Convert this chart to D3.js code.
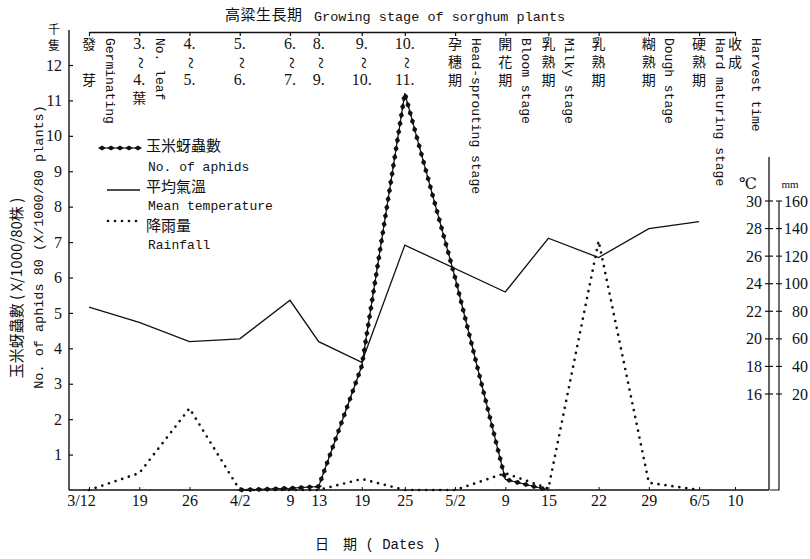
<!DOCTYPE html>
<html><head><meta charset="utf-8">
<script src="https://cdn.jsdelivr.net/npm/d3@7"></script>
<style>
body{margin:0;background:#fff;}
svg{display:block;}
.num{font-family:'Liberation Serif','DejaVu Serif',serif;font-size:16px;fill:#111;}
.mono{font-family:'Liberation Mono','DejaVu Sans Mono',monospace;font-size:13px;fill:#111;}
.cjk{font-family:'Noto Sans CJK TC','Noto Sans CJK SC',sans-serif;font-size:14px;fill:#111;}
</style></head>
<body>
<svg id="c" width="810" height="559"></svg>
<script>
// ---------- data ----------
const dateKeys   = ["03-12","03-19","03-26","04-02","04-09","04-13","04-19","04-25","05-02","05-09","05-15","05-22","05-29","06-05","06-10"];
const dateLabels = ["3/12","19","26","4/2","9","13","19","25","5/2","9","15","22","29","6/5","10"];

const aphidDates  = ["04-02","04-09","04-13","04-19","04-25","05-02","05-09","05-15"];
const aphidValues = [0, 0.05, 0.1, 3.5, 11.2, 6.0, 0.3, 0];           // thousand aphids / 80 plants

const tempDates  = ["03-12","03-19","03-26","04-02","04-09","04-13","04-19","04-25","05-09","05-15","05-22","05-29","06-05"];
const tempValues = [22.3, 21.2, 19.8, 20.0, 22.8, 19.8, 18.3, 26.8, 23.4, 27.3, 25.9, 28.0, 28.5]; // °C

const rainDates  = ["03-12","03-19","03-26","04-02","04-09","04-13","04-19","04-25","05-02","05-09","05-15","05-22","05-29","06-05"];
const rainValues = [0, 3.5, 17, 0, 0, 0, 2.3, 0, 0, 3.5, 0.3, 131, 1.5, 0]; // mm

const aphidTicks = [1,2,3,4,5,6,7,8,9,10,11,12];
const tempTicks  = [16,18,20,22,24,26,28,30];
const rainTicks  = [20,40,60,80,100,120,140,160];

const stageDates = ["03-12","03-19","03-26","04-02","04-09","04-13","04-19","04-25","05-02","05-09","05-15","05-22","05-29","06-05","06-10"];
const stageZh = [["發","","芽"],["3.","~","4.","葉"],["4.","~","5."],["5.","~","6."],["6.","~","7."],["8.","~","9."],["9.","~","10."],["10.","~","11."],
                 ["孕","穗","期"],["開","花","期"],["乳","熟","期"],["乳","熟","期"],["糊","熟","期"],["硬","熟","期"],["收","成"]];
const stageEn = ["Germinating","No. leaf","","","","","","","Head-sprouting stage","Bloom stage","Milky stage","","Dough stage","Hard maturing stage","Harvest time"];

const titleZh = "高粱生長期";
const titleEn = "Growing stage of sorghum plants";
const yTitleZh = "玉米蚜蟲數 ( X/1000/80株 )";
const yTitleEn = "No. of aphids 80 (X/1000/80 plants)";
const xTitle = "日　期 ( Dates )";
const legendZh = ["玉米蚜蟲數","平均氣溫","降雨量"];
const legendEn = ["No. of aphids","Mean temperature","Rainfall"];

// ---------- scales ----------
const parse = k => new Date(1980, +k.slice(0,2)-1, +k.slice(3));
const svg = d3.select("#c");
const x = d3.scaleTime().domain([parse("03-12"), parse("06-10")]).range([89, 735]);
const yA = d3.scaleLinear().domain([0, 12]).range([490, 65]);
const yT = d3.scaleLinear().domain([16, 30]).range([394, 201]);
const yR = d3.scaleLinear().domain([0, 20, 160]).range([490, 394, 201]);

const ink = "#111";

// ---------- axes ----------
svg.append("line").attr("x1",69).attr("x2",69).attr("y1",30).attr("y2",490).attr("stroke",ink).attr("stroke-width",1.4);
const gL = svg.append("g").attr("transform","translate(69,0)")
  .call(d3.axisLeft(yA).tickValues(aphidTicks).tickSize(-4).tickPadding(7).tickFormat(d3.format("d")));
gL.select(".domain").remove();
gL.selectAll("line").attr("stroke",ink).attr("stroke-width",1.2);
gL.selectAll("text").attr("class","num").attr("font-size",null).attr("font-family",null);
svg.append("text").attr("class","cjk").attr("x",54).attr("y",31).attr("text-anchor","middle").attr("dominant-baseline","middle").style("font-size","12px").text("千");
svg.append("text").attr("class","cjk").attr("x",54).attr("y",47).attr("text-anchor","middle").attr("dominant-baseline","middle").style("font-size","12px").text("隻");

svg.append("line").attr("x1",69).attr("x2",769).attr("y1",490).attr("y2",490).attr("stroke",ink).attr("stroke-width",1.4);
const gB = svg.append("g").attr("transform","translate(0,490)")
  .call(d3.axisBottom(x).tickValues(dateKeys.map(parse)).tickSize(-3).tickPadding(5)
        .tickFormat((d,i)=>dateLabels[i]));
gB.select(".domain").remove();
gB.selectAll("line").attr("stroke",ink);
gB.selectAll("text").attr("class","num").attr("font-size",null).attr("font-family",null);
gB.selectAll(".tick").filter((d,i)=>i===0).select("text").attr("x",-8);

svg.append("text").attr("x",378).attr("y",545).attr("text-anchor","middle").attr("dominant-baseline","middle")
  .style("font-family","'Liberation Mono','Noto Sans CJK TC',monospace").style("font-size","14px").attr("fill",ink).text(xTitle);

svg.append("text").attr("class","cjk").attr("transform","translate(18,288) rotate(-90)").attr("text-anchor","middle")
  .attr("dominant-baseline","middle").style("font-family","'Noto Sans CJK TC','Liberation Mono',sans-serif").style("font-size","15px").text(yTitleZh);
svg.append("text").attr("class","mono").attr("transform","translate(39,247) rotate(-90)").attr("text-anchor","middle")
  .attr("dominant-baseline","middle").style("font-size","13.5px").text(yTitleEn);

svg.append("line").attr("x1",769).attr("x2",769).attr("y1",157).attr("y2",490).attr("stroke",ink).attr("stroke-width",1.3);
svg.append("path").attr("d",`M779,${yR(160)}V490H770`).attr("fill","none").attr("stroke",ink).attr("stroke-width",1.2);
const tT = svg.append("g").selectAll("g").data(tempTicks).join("g").attr("transform",d=>`translate(769,${yT(d)})`);
tT.append("line").attr("x1",-4).attr("x2",4).attr("stroke",ink).attr("stroke-width",1.2);
tT.append("text").attr("class","num").attr("x",-7).attr("dy","0.35em").attr("text-anchor","end").text(d=>d);
const tR = svg.append("g").selectAll("g").data(rainTicks).join("g").attr("transform",d=>`translate(779,${yR(d)})`);
tR.append("line").attr("x1",-3).attr("x2",3).attr("stroke",ink).attr("stroke-width",1.1);
tR.append("text").attr("class","num").attr("x",29).attr("dy","0.35em").attr("text-anchor","end").text(d=>d);
svg.append("text").attr("class","num").attr("x",748).attr("y",185).attr("text-anchor","middle").attr("dominant-baseline","middle").text("℃");
svg.append("text").attr("class","num").attr("x",790).attr("y",185).attr("text-anchor","middle").attr("dominant-baseline","middle").style("font-size","11px").text("mm");

// ---------- growing stage header ----------
svg.append("text").attr("class","cjk").attr("x",225).attr("y",16).attr("dominant-baseline","middle").style("font-size","15px").style("letter-spacing","0.5px").text(titleZh);
svg.append("text").attr("class","mono").attr("x",314).attr("y",17).attr("dominant-baseline","middle").style("font-size","13.5px").text(titleEn);

const gS = svg.append("g").attr("transform","translate(0,32)")
  .call(d3.axisBottom(x).tickValues(stageDates.map(parse)).tickSize(4).tickSizeOuter(0).tickFormat(""));
gS.select(".domain").attr("stroke",ink).attr("stroke-width",1.3);
gS.selectAll("line").attr("stroke",ink).attr("stroke-width",1.2);

const stg = svg.append("g").selectAll("g").data(stageDates.map((d,i)=>({d:parse(d),zh:stageZh[i],en:stageEn[i]}))).join("g")
  .attr("transform",d=>`translate(${x(d.d)},0)`);
stg.each(function(s){
  const g = d3.select(this);
  s.zh.forEach((t,j)=>{
    const isNum = /[0-9~]/.test(t);
    const yy = 45 + j*18;
    const tx = g.append("text").attr("x",0).attr("y",yy).attr("text-anchor","middle").attr("dominant-baseline","middle")
      .attr("class", isNum ? "num" : "cjk").text(t);
    if (t === "~") tx.attr("transform",`rotate(90,0,${yy})`).style("font-size","22px");
  });
  if (s.en) g.append("text").attr("class","mono").attr("transform","translate(20,38) rotate(90)")
      .attr("dominant-baseline","middle").text(s.en);
});

// ---------- series ----------
const lineA = d3.line().x(d=>x(d.d)).y(d=>yA(d.v));
const lineT = d3.line().x(d=>x(d.d)).y(d=>yT(d.v));
const lineR = d3.line().x(d=>x(d.d)).y(d=>yR(d.v));

const tempData  = tempDates.map((d,i)=>({d:parse(d),v:tempValues[i]}));
const rainData  = rainDates.map((d,i)=>({d:parse(d),v:rainValues[i]}));
const aphidData = aphidDates.map((d,i)=>({d:parse(d),v:aphidValues[i]}));

svg.append("path").datum(tempData).attr("d",lineT).attr("fill","none").attr("stroke",ink).attr("stroke-width",1.3);
svg.append("path").datum(rainData).attr("d",lineR).attr("fill","none").attr("stroke",ink)
  .attr("stroke-width",2.7).attr("stroke-linecap","round").attr("stroke-dasharray","0 7");

function diamondChain(pathSel, step){
  const node = pathSel.node();
  const L = node.getTotalLength();
  const pts = [];
  for (let s = 2; s <= L; s += step) {
    const p = node.getPointAtLength(s);
    const p1 = node.getPointAtLength(Math.max(0,s-0.6));
    const p2 = node.getPointAtLength(Math.min(L,s+0.6));
    pts.push({x:p.x,y:p.y,a:Math.atan2(p2.y-p1.y,p2.x-p1.x)*180/Math.PI});
  }
  svg.append("g").selectAll("path").data(pts).join("path")
    .attr("d","M-4,0L0,-2.6L4,0L0,2.6Z")
    .attr("transform",d=>`translate(${d.x},${d.y}) rotate(${d.a})`).attr("fill",ink);
}
const pA = svg.append("path").datum(aphidData).attr("d",lineA).attr("fill","none").attr("stroke",ink).attr("stroke-width",1.1);
diamondChain(pA, 8.5);

// ---------- legend ----------
const legY = [148, 190, 221];
const pL = svg.append("path").attr("d",d3.line()([[100,legY[0]],[140,legY[0]]])).attr("stroke",ink).attr("stroke-width",1.1);
diamondChain(pL, 9);
svg.append("path").attr("d",d3.line()([[107,legY[1]],[140,legY[1]]])).attr("stroke",ink).attr("stroke-width",1.3);
svg.append("path").attr("d",d3.line()([[108,legY[2]],[143,legY[2]]])).attr("stroke",ink).attr("stroke-width",2.7)
  .attr("stroke-linecap","round").attr("stroke-dasharray","0 7");
const legTxtY = [[147,168],[188,207],[227,246]];
legendZh.forEach((t,i)=>{
  svg.append("text").attr("class","cjk").attr("x",146).attr("y",legTxtY[i][0]).attr("dominant-baseline","middle").style("font-size","15px").text(t);
  svg.append("text").attr("class","mono").attr("x",148).attr("y",legTxtY[i][1]).attr("dominant-baseline","middle").text(legendEn[i]);
});
</script>
</body></html>
